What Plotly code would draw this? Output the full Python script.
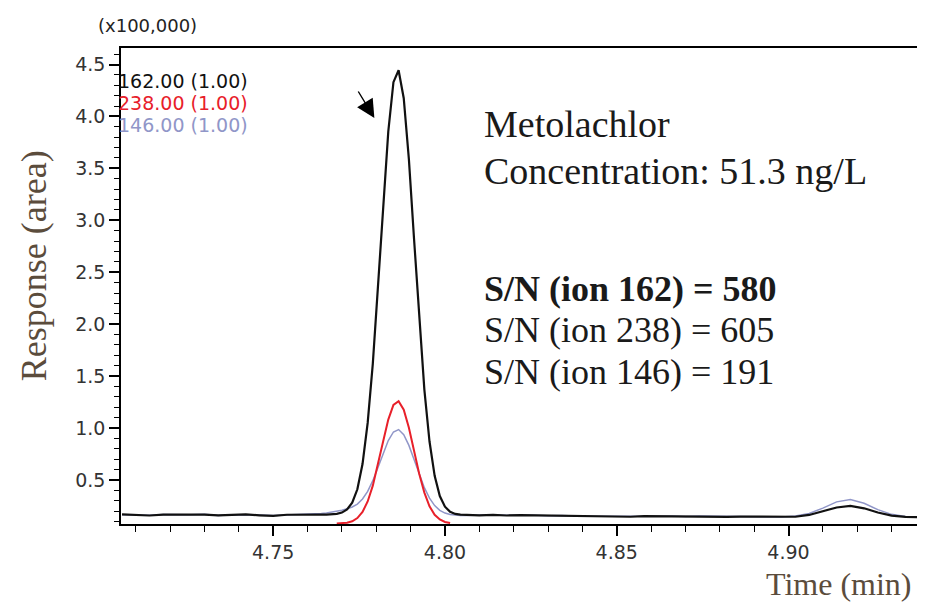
import plotly.graph_objects as go

# ---------------- data ----------------
# shared time axis for ions 162 and 146 (min)
time_main = [
    4.706, 4.710, 4.714, 4.718, 4.722, 4.726, 4.730, 4.734, 4.738, 4.742,
    4.746, 4.750, 4.754, 4.758, 4.762,
    4.7640, 4.7655, 4.7670, 4.7685, 4.7700, 4.7715, 4.7730, 4.7745, 4.7760,
    4.7775, 4.7790, 4.7805, 4.7820, 4.7835, 4.7850, 4.7865, 4.7880, 4.7895,
    4.7910, 4.7925, 4.7940, 4.7955, 4.7970, 4.7985, 4.8000, 4.8015, 4.8030,
    4.8045, 4.8060,
    4.810, 4.814, 4.818, 4.822, 4.826, 4.830, 4.834, 4.838, 4.842, 4.846,
    4.850, 4.854, 4.858, 4.862, 4.866, 4.870, 4.874, 4.878, 4.882, 4.886,
    4.890, 4.894, 4.898, 4.902, 4.906, 4.910, 4.914, 4.918, 4.922, 4.926,
    4.930, 4.934, 4.938, 4.940,
]

# ion 162 response (x100,000)
ion162 = [
    0.168, 0.165, 0.158, 0.166, 0.168, 0.164, 0.167, 0.160, 0.163, 0.168,
    0.160, 0.154, 0.165, 0.163, 0.168,
    0.166, 0.167, 0.169, 0.174, 0.186, 0.216, 0.281, 0.410, 0.653,
    1.049, 1.620, 2.345, 3.137, 3.853, 4.330, 4.445, 4.175, 3.586,
    2.820, 2.040, 1.370, 0.870, 0.540, 0.345, 0.243, 0.193, 0.173,
    0.166, 0.163,
    0.160, 0.163, 0.158, 0.162, 0.160, 0.158, 0.159, 0.156, 0.150, 0.148,
    0.147, 0.146, 0.152, 0.150, 0.153, 0.149, 0.151, 0.149, 0.145, 0.147,
    0.146, 0.143, 0.141, 0.146, 0.163, 0.197, 0.235, 0.250, 0.227, 0.187,
    0.157, 0.144, 0.141, 0.140,
]

# ion 146 response (x100,000)
ion146 = [
    0.166, 0.163, 0.160, 0.168, 0.166, 0.165, 0.170, 0.158, 0.166, 0.166,
    0.163, 0.158, 0.163, 0.165, 0.172,
    0.176, 0.183, 0.190, 0.200, 0.208, 0.222, 0.240, 0.268, 0.317,
    0.390, 0.493, 0.620, 0.753, 0.879, 0.962, 0.985, 0.936, 0.833,
    0.698, 0.555, 0.426, 0.325, 0.253, 0.207, 0.181, 0.168, 0.161,
    0.159, 0.159,
    0.163, 0.165, 0.161, 0.164, 0.160, 0.155, 0.158, 0.153, 0.152, 0.150,
    0.149, 0.147, 0.153, 0.150, 0.154, 0.148, 0.152, 0.150, 0.146, 0.149,
    0.148, 0.145, 0.144, 0.152, 0.178, 0.229, 0.289, 0.311, 0.276, 0.214,
    0.169, 0.149, 0.143, 0.142,
]

# ion 238 (only drawn across the peak window)
time_238 = [
    4.7685, 4.7700, 4.7715, 4.7730, 4.7745, 4.7760, 4.7775, 4.7790, 4.7805,
    4.7820, 4.7835, 4.7850, 4.7865, 4.7880, 4.7895, 4.7910, 4.7925, 4.7940,
    4.7955, 4.7970, 4.7985, 4.8000, 4.8015,
]
ion238 = [
    0.081, 0.083, 0.089, 0.102, 0.133, 0.192, 0.293, 0.445, 0.645,
    0.871, 1.081, 1.222, 1.258, 1.176, 1.002, 0.781, 0.560, 0.378,
    0.247, 0.164, 0.119, 0.096, 0.086,
]

ion_labels = ["162.00 (1.00)", "238.00 (1.00)", "146.00 (1.00)"]
x_ticks = [4.75, 4.80, 4.85, 4.90]
y_ticks = [0.5, 1.0, 1.5, 2.0, 2.5, 3.0, 3.5, 4.0, 4.5]
info_lines = ["Metolachlor", "Concentration: 51.3 ng/L"]
sn_lines = ["S/N (ion 162) = 580", "S/N (ion 238) = 605", "S/N (ion 146) = 191"]

# ---------------- figure ----------------
W, H = 925, 605
L, R, T, B = 113, 3, 40, 89
PW, PH = W - L - R, H - T - B


def px(x, y):
    return (x - L) / PW, (H - B - y) / PH


C_BLACK = "#111111"
C_RED = "#e8202a"
C_BLUE = "#9096c8"
C_TITLE = "#5b4c3c"

fig = go.Figure()
fig.add_trace(go.Scatter(x=time_main, y=ion146, mode="lines",
                         line=dict(color=C_BLUE, width=1.5), showlegend=False))
fig.add_trace(go.Scatter(x=time_238, y=ion238, mode="lines",
                         line=dict(color=C_RED, width=2), showlegend=False))
fig.add_trace(go.Scatter(x=time_main, y=ion162, mode="lines",
                         line=dict(color=C_BLACK, width=2.2), showlegend=False))

sans = "DejaVu Sans, Arial, sans-serif"
serif = "Liberation Serif, Times New Roman, serif"
tickfont = dict(family=sans, size=19, color="#333333")

fig.update_xaxes(range=[4.7057, 4.9406], tickvals=x_ticks,
                 ticktext=[f"{v:.2f}" for v in x_ticks],
                 showline=True, linecolor="black", linewidth=1.6, mirror=True,
                 ticks="outside", ticklen=10, tickwidth=1.6, tickcolor="black",
                 minor=dict(dtick=0.01, tick0=4.70, ticks="outside", ticklen=6,
                            tickwidth=1.3, tickcolor="black"),
                 showgrid=False, zeroline=False, tickfont=tickfont)
fig.update_yaxes(range=[0.076, 4.659], tickvals=y_ticks,
                 ticktext=[f"{v:.1f}" for v in y_ticks],
                 showline=True, linecolor="black", linewidth=1.6, mirror=True,
                 ticks="outside", ticklen=10, tickwidth=1.6, tickcolor="black",
                 minor=dict(dtick=0.1, tick0=0.0, ticks="outside", ticklen=5,
                            tickwidth=1.3, tickcolor="black"),
                 showgrid=False, zeroline=False, tickfont=tickfont)

ann = []
# ion legend (top-left inside plot)
for lab, col, yy in zip(ion_labels, [C_BLACK, C_RED, C_BLUE], [73, 95, 117]):
    x0, y0 = px(108, yy)
    ann.append(dict(x=x0, y=y0, xref="paper", yref="paper", text=lab,
                    showarrow=False, xanchor="left", yanchor="middle",
                    font=dict(family=sans, size=19, color=col)))
# multiplier label
x0, y0 = px(88, 18)
ann.append(dict(x=x0, y=y0, xref="paper", yref="paper", text="(x100,000)",
                showarrow=False, xanchor="left", yanchor="middle",
                font=dict(family=sans, size=18, color="#222222")))
# compound info
for line, yy in zip(info_lines, [116, 163]):
    x0, y0 = px(475, yy)
    ann.append(dict(x=x0, y=y0, xref="paper", yref="paper", text=line,
                    showarrow=False, xanchor="left", yanchor="middle",
                    font=dict(family=serif, size=38, color="#1a1a1a")))
for i, (line, yy) in enumerate(zip(sn_lines, [281, 322, 364])):
    x0, y0 = px(475, yy)
    txt = f"<b>{line}</b>" if i == 0 else line
    ann.append(dict(x=x0, y=y0, xref="paper", yref="paper", text=txt,
                    showarrow=False, xanchor="left", yanchor="middle",
                    font=dict(family=serif, size=36, color="#1a1a1a")))
# axis titles
x0, y0 = px(26, 258)
ann.append(dict(x=x0, y=y0, xref="paper", yref="paper", text="Response (area)",
                showarrow=False, textangle=-90, xanchor="center", yanchor="middle",
                font=dict(family=serif, size=36, color=C_TITLE)))
x0, y0 = px(908, 596)
ann.append(dict(x=x0, y=y0, xref="paper", yref="paper", text="Time (min)",
                showarrow=False, xanchor="right", yanchor="bottom",
                font=dict(family=serif, size=32, color=C_TITLE)))
# peak arrow
tx, ty = px(367, 110)
ann.append(dict(x=tx, y=ty, xref="paper", yref="paper", text="",
                showarrow=True, ax=-17, ay=-28, arrowhead=2, arrowsize=2.6,
                arrowwidth=1.4, arrowcolor="black"))

fig.update_layout(width=W, height=H, margin=dict(l=L, r=R, t=T, b=B),
                  plot_bgcolor="white", paper_bgcolor="white",
                  annotations=ann, showlegend=False)

fig.write_html("out.html")
